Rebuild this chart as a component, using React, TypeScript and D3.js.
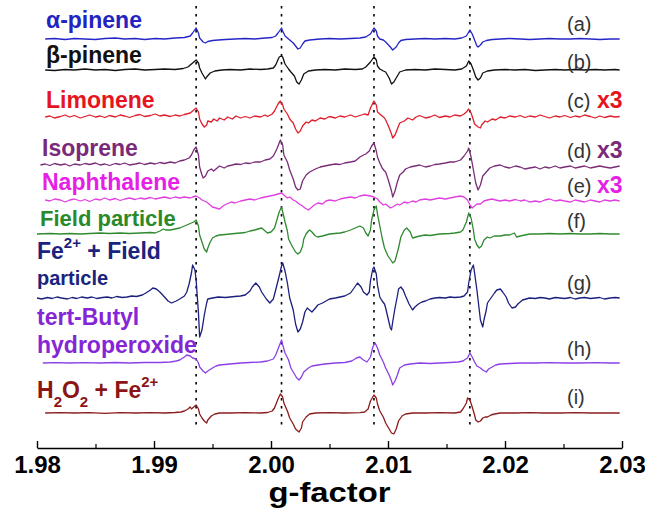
import React, { useEffect, useRef } from 'react';
import * as d3 from 'd3';

type Pt = [number, number];

// g-factor axis
const gTicks = [1.98, 1.99, 2.0, 2.01, 2.02, 2.03];
const gMinorTicks = [1.985, 1.995, 2.005, 2.015, 2.025];
const markerLines = [1.9936, 2.0009, 2.0088, 2.017];

// spectra: [g, signal]
const alphaPinene: Pt[] = [[1.9807,0],[1.9815,0.5],[1.9824,-0.5],[1.9832,0.5],[1.9841,0],[1.985,-0.5],[1.9858,0.5],[1.9867,1],[1.9875,0],[1.9884,0.5],[1.9892,-0.5],[1.9901,0.5],[1.9909,0],[1.9918,1],[1.9926,1.5],[1.9931,3],[1.9933,6],[1.9936,11],[1.9938,6],[1.9939,1],[1.9942,-3],[1.9944,-4],[1.9946,-2.5],[1.995,-1.5],[1.9955,-1],[1.9961,-0.5],[1.9969,0],[1.9978,0.5],[1.9986,0],[1.9995,1],[2.0001,1.5],[2.0004,3],[2.0006,6],[2.0009,11],[2.001,8],[2.0012,3],[2.0015,0],[2.0016,-1],[2.0019,-4],[2.0021,-7],[2.0023,-10],[2.0025,-9],[2.0027,-5],[2.0029,-2],[2.0033,-1],[2.0042,0],[2.005,0.5],[2.0059,0],[2.0068,0.5],[2.0076,1],[2.0081,2],[2.0085,5],[2.0088,11],[2.009,8],[2.0091,3],[2.0093,0],[2.0096,-1],[2.0098,-3],[2.0102,-8],[2.0104,-11],[2.0107,-8],[2.0109,-4],[2.0111,-1.5],[2.0115,-0.5],[2.0123,0],[2.0132,0.5],[2.014,0],[2.0149,0.5],[2.0157,0],[2.0163,1],[2.0167,3],[2.017,9],[2.0172,5],[2.0174,-1],[2.0176,-7],[2.0177,-8],[2.0179,-6],[2.0181,-3],[2.0184,-1.5],[2.0189,-0.5],[2.0196,0],[2.0204,0.5],[2.0213,0],[2.0221,-0.5],[2.023,0],[2.0238,0.5],[2.0247,0],[2.0256,0],[2.0264,0.5],[2.0273,0],[2.0281,-0.5],[2.029,0],[2.0298,0]];

const betaPinene: Pt[] = [[1.9807,0],[1.9815,-0.5],[1.9824,0.5],[1.9832,0],[1.9841,1],[1.985,0],[1.9858,0.5],[1.9867,-0.5],[1.9875,0.5],[1.9884,1],[1.9892,0],[1.9901,0.5],[1.9909,1],[1.9918,0.5],[1.9925,1.5],[1.9929,3],[1.9932,6],[1.9936,10],[1.9938,7],[1.9939,2],[1.9941,-3],[1.9944,-9],[1.9945,-7],[1.9948,-3],[1.9952,-1],[1.9958,0],[1.9965,0.5],[1.9974,0],[1.9982,1],[1.9991,0.5],[1.9997,1],[2.0002,2],[2.0004,5],[2.0007,13],[2.0009,14],[2.001,13],[2.0012,6],[2.0015,1],[2.0017,-2],[2.002,-6],[2.0022,-12],[2.0024,-14],[2.0026,-10],[2.0028,-4],[2.0032,-1],[2.0038,0],[2.0046,0.5],[2.0055,0],[2.0063,1],[2.0072,0.5],[2.0078,1],[2.0081,3],[2.0085,8],[2.0088,13],[2.009,10],[2.0091,4],[2.0093,1],[2.0096,-1],[2.0098,-2],[2.0101,-8],[2.0103,-14],[2.0105,-12],[2.0108,-6],[2.011,-2],[2.0115,0],[2.0123,0.5],[2.0132,0],[2.014,1],[2.0149,0.5],[2.0157,0],[2.0163,1],[2.0167,4],[2.0169,9],[2.0171,6],[2.0173,0],[2.0175,-7],[2.0177,-10],[2.0179,-8],[2.0181,-3],[2.0185,-1],[2.0191,0],[2.02,0.5],[2.0208,0],[2.0217,0.5],[2.0226,-0.5],[2.0234,0],[2.0243,0.5],[2.0251,0],[2.026,0.5],[2.0268,0],[2.0277,0.5],[2.0285,0],[2.0294,0.5],[2.0298,0]];

const limonene: Pt[] = [[1.9807,0],[1.9811,1],[1.9815,-1],[1.982,0.5],[1.9824,2],[1.9828,0],[1.9832,1.5],[1.9837,-1],[1.9841,0.5],[1.9845,2],[1.985,0],[1.9854,1],[1.9858,-0.5],[1.9862,1.5],[1.9867,0],[1.9871,2],[1.9875,1],[1.9879,-0.5],[1.9884,1.5],[1.9888,2.5],[1.9892,0.5],[1.9897,1.5],[1.9901,3],[1.9905,1],[1.9909,2],[1.9914,0.5],[1.9918,2],[1.9922,1],[1.9926,2.5],[1.9931,4],[1.9933,6],[1.9936,9],[1.9938,5],[1.9939,-2],[1.9941,-7],[1.9943,-10],[1.9945,-8],[1.9946,-4],[1.9949,-5],[1.9951,-2],[1.9954,-4],[1.9956,-1],[1.996,-3],[1.9963,0],[1.9967,-2],[1.997,1],[1.9974,-1],[1.9978,0.5],[1.9982,-1],[1.9986,1],[1.9991,0],[1.9995,2],[1.9997,0.5],[2.0001,3],[2.0003,6],[2.0006,13],[2.0008,16],[2.001,12],[2.0011,8],[2.0014,3],[2.0016,-2],[2.0019,-6],[2.0021,-12],[2.0023,-16],[2.0025,-14],[2.0027,-9],[2.003,-5],[2.0032,-6],[2.0035,-3],[2.0038,-4],[2.0042,-1],[2.0046,-2],[2.005,0.5],[2.0055,-1],[2.0059,1],[2.0063,0],[2.0068,2],[2.0072,0],[2.0076,1.5],[2.008,3],[2.0083,2],[2.0085,9],[2.0088,16],[2.009,12],[2.0091,5],[2.0094,2],[2.0097,-1],[2.0098,-3],[2.01,-8],[2.0103,-17],[2.0104,-21],[2.0106,-18],[2.0108,-12],[2.011,-6],[2.0114,-4],[2.0117,-1],[2.0121,-3],[2.0124,0],[2.0127,1.5],[2.0132,-1],[2.0136,0],[2.014,2],[2.0144,-0.5],[2.0149,1],[2.0153,0],[2.0157,2],[2.0162,1],[2.0165,3],[2.0167,5],[2.0169,8],[2.0171,4],[2.0173,-3],[2.0174,-7],[2.0177,-10],[2.0179,-11],[2.018,-8],[2.0183,-4],[2.0185,-5],[2.0189,-2],[2.0192,-3],[2.0196,0],[2.02,-1],[2.0204,1],[2.0209,0],[2.0213,1.5],[2.0217,-0.5],[2.0221,1],[2.0226,0],[2.023,2],[2.0234,0.5],[2.0238,-1],[2.0243,1],[2.0247,0],[2.0251,1.5],[2.0256,-0.5],[2.026,1],[2.0264,0],[2.0268,2],[2.0273,0.5],[2.0277,-1],[2.0281,1],[2.0285,-0.5],[2.029,1],[2.0294,0],[2.0298,0.5]];

const isoprene: Pt[] = [[1.9803,0],[1.9807,1],[1.9811,-0.5],[1.9815,1.5],[1.982,0],[1.9824,1],[1.9828,-1],[1.9832,1],[1.9837,0],[1.9841,1.5],[1.9845,0.5],[1.985,2],[1.9854,0],[1.9858,1],[1.9862,-0.5],[1.9867,1.5],[1.9871,0.5],[1.9875,2],[1.9879,0],[1.9884,1],[1.9888,2],[1.9892,0.5],[1.9897,2],[1.9901,1],[1.9905,2.5],[1.9909,1.5],[1.9914,3],[1.9918,2],[1.9922,4],[1.9926,5],[1.993,7],[1.9932,10],[1.9934,15],[1.9936,18],[1.9938,10],[1.9939,-2],[1.9941,-10],[1.9942,-13],[1.9944,-11],[1.9946,-6],[1.9949,-4],[1.9951,-6],[1.9954,-3],[1.9956,-1],[1.996,-3],[1.9963,-1],[1.9967,0],[1.997,1],[1.9974,0.5],[1.9978,2],[1.9982,1.5],[1.9986,3],[1.9991,3],[1.9995,5],[1.9999,6],[2.0002,9],[2.0005,16],[2.0008,25],[2.001,20],[2.0011,10],[2.0014,3],[2.0016,-5],[2.0019,-14],[2.0021,-22],[2.0023,-25],[2.0025,-24],[2.0027,-16],[2.003,-10],[2.0033,-7],[2.0038,-4],[2.0042,-2],[2.0046,-1],[2.005,0],[2.0055,1],[2.0059,0.5],[2.0063,2],[2.0068,3],[2.0072,4],[2.0076,8],[2.0079,10],[2.0081,11],[2.0084,14],[2.0086,19],[2.0088,22],[2.009,14],[2.0091,8],[2.0093,2],[2.0095,-3],[2.0097,-6],[2.0098,-7],[2.01,-14],[2.0103,-26],[2.0104,-32],[2.0106,-26],[2.0108,-17],[2.011,-10],[2.0113,-7],[2.0115,-4],[2.0119,-2],[2.0123,-1],[2.0127,0],[2.0132,-2],[2.0136,-1],[2.014,0.5],[2.0144,1],[2.0149,2],[2.0153,3],[2.0157,3],[2.0162,5],[2.0165,9],[2.0168,14],[2.0169,17],[2.0171,8],[2.0173,-5],[2.0175,-18],[2.0177,-25],[2.0179,-20],[2.0181,-11],[2.0184,-7],[2.0187,-3],[2.0191,-1],[2.0196,0],[2.02,-2],[2.0204,-3],[2.0209,-1],[2.0213,-2],[2.0217,-4],[2.0221,-3],[2.0226,-2],[2.023,-4],[2.0234,-2],[2.0238,-3],[2.0243,-1],[2.0247,-3],[2.0251,-2],[2.0256,-1],[2.026,-3],[2.0264,-2],[2.0268,-1],[2.0273,-3],[2.0277,-2],[2.0281,-1],[2.0285,-2],[2.029,-3],[2.0294,-2],[2.0298,-1]];

const naphthalene: Pt[] = [[1.9807,0],[1.9811,-1],[1.9815,1],[1.982,0],[1.9824,-2],[1.9828,0],[1.9832,1],[1.9837,-1],[1.9841,0.5],[1.9845,-1.5],[1.985,1],[1.9854,0],[1.9858,2],[1.9862,0],[1.9867,1.5],[1.9871,-0.5],[1.9875,1],[1.9879,2],[1.9884,0.5],[1.9888,2],[1.9892,1],[1.9897,2.5],[1.9901,1],[1.9905,2],[1.9909,3],[1.9914,1.5],[1.9918,3],[1.9922,2],[1.9926,3],[1.9931,2],[1.9933,3],[1.9936,4],[1.9939,2],[1.9941,0],[1.9945,-2],[1.9948,-5],[1.995,-7],[1.9953,-8],[1.9956,-9],[1.9959,-6],[1.9962,-4],[1.9966,-2],[1.9969,-3],[1.9974,-1],[1.9978,0],[1.9982,1],[1.9986,0],[1.9991,2],[1.9995,3],[1.9999,4],[2.0003,5],[2.0006,6],[2.0009,7],[2.0011,5],[2.0014,2],[2.0016,3],[2.0019,0],[2.0021,-1],[2.0024,-4],[2.0027,-6],[2.0029,-8],[2.0032,-10],[2.0034,-8],[2.0037,-5],[2.004,-3],[2.0044,-4],[2.0047,-1],[2.005,0],[2.0055,-1],[2.0059,1],[2.0063,2],[2.0068,3],[2.0072,2],[2.0076,4],[2.008,5],[2.0085,4],[2.0088,3],[2.0091,1],[2.0093,-2],[2.0096,-5],[2.0098,-4],[2.0102,-8],[2.0104,-7],[2.0108,-4],[2.011,-5],[2.0114,-2],[2.0117,-3],[2.0121,-1],[2.0124,-2],[2.0127,0],[2.0132,1],[2.0136,0],[2.014,1],[2.0144,2],[2.0149,1],[2.0153,2],[2.0157,3],[2.0162,4],[2.0165,3],[2.0168,0],[2.017,-5],[2.0172,-8],[2.0174,-6],[2.0176,-4],[2.0179,-4],[2.0182,-1],[2.0185,0],[2.0189,1],[2.0192,0],[2.0196,-1],[2.02,0],[2.0204,-1],[2.0209,0.5],[2.0213,-1],[2.0217,0],[2.0221,-2],[2.0226,-1],[2.023,-2],[2.0234,0],[2.0238,1],[2.0243,-1],[2.0247,0],[2.0251,-1],[2.0256,-2],[2.026,0],[2.0264,-1],[2.0268,-2],[2.0273,0],[2.0277,-1],[2.0281,-2],[2.0285,0],[2.029,-1],[2.0294,0],[2.0298,-1]];

const fieldParticle: Pt[] = [[1.98,0],[1.9811,0.5],[1.982,0],[1.9828,0.5],[1.9837,0],[1.9845,0.5],[1.9854,1],[1.9862,0.5],[1.9871,1],[1.9879,0.5],[1.9888,1],[1.9897,1.5],[1.9901,1],[1.9905,3],[1.9908,5],[1.991,4],[1.9914,4],[1.9918,5],[1.9922,6],[1.9926,8],[1.993,10],[1.9932,11],[1.9934,12],[1.9936,14],[1.9938,8],[1.9939,-1],[1.9941,-8],[1.9943,-15],[1.9945,-18],[1.9946,-14],[1.9948,-8],[1.995,-4],[1.9953,-2],[1.9956,-1],[1.9961,-0.5],[1.9965,0],[1.9969,0.5],[1.9974,1],[1.9978,1.5],[1.9982,3],[1.9986,4],[1.9989,5],[1.9992,6],[1.9995,3],[1.9997,1],[2.0,2],[2.0003,6],[2.0005,14],[2.0007,22],[2.0009,27],[2.001,22],[2.0012,12],[2.0014,3],[2.0015,-5],[2.0018,-12],[2.0021,-18],[2.0023,-20],[2.0025,-18],[2.0027,-12],[2.0028,-5],[2.003,0],[2.0032,3],[2.0033,4],[2.0035,2],[2.0038,-2],[2.004,-3],[2.0044,-2],[2.0047,-1],[2.005,0],[2.0059,1],[2.0063,2],[2.0068,4],[2.0072,6],[2.0076,8],[2.0079,6],[2.0081,1],[2.0083,-2],[2.0085,4],[2.0086,14],[2.0088,24],[2.009,28],[2.0091,20],[2.0093,8],[2.0095,-4],[2.0097,-14],[2.01,-22],[2.0103,-27],[2.0104,-29],[2.0106,-27],[2.0109,-14],[2.0111,-3],[2.0114,4],[2.0116,6],[2.0119,2],[2.0121,-4],[2.0124,-3],[2.0127,-2],[2.0132,-1],[2.0136,-1.5],[2.0144,0],[2.0153,0.5],[2.0157,1],[2.0162,2],[2.0164,4],[2.0167,12],[2.0169,21],[2.0171,16],[2.0173,4],[2.0174,-5],[2.0176,-11],[2.0178,-14],[2.018,-12],[2.0182,-6],[2.0185,-3],[2.0187,-4],[2.0191,-2],[2.0196,-2],[2.02,-1],[2.0204,-1],[2.0208,1],[2.021,-3],[2.0213,-2],[2.0217,-1],[2.0221,0],[2.023,0],[2.0238,0.5],[2.0247,0],[2.0256,0.5],[2.0264,0],[2.0273,0],[2.0281,0.5],[2.029,0],[2.0298,0]];

const feFieldParticle: Pt[] = [[1.98,0],[1.9804,-1],[1.9809,0.5],[1.9813,-0.5],[1.9817,1],[1.9821,0],[1.9826,-1],[1.983,0.5],[1.9834,-0.5],[1.9838,1],[1.9843,0],[1.9847,1],[1.9851,-0.5],[1.9856,0.5],[1.986,1],[1.9864,0],[1.9868,1.5],[1.9873,0.5],[1.9877,1],[1.9881,2],[1.9885,1.5],[1.989,3],[1.9893,5],[1.9897,8],[1.9899,10],[1.9902,9],[1.9905,6],[1.9909,1],[1.9912,-3],[1.9915,-5],[1.9919,-3],[1.9922,-1],[1.9926,2],[1.9928,6],[1.993,14],[1.9932,25],[1.9933,33],[1.9935,28],[1.9936,18],[1.9938,-15],[1.9939,-39],[1.9941,-32],[1.9943,-17],[1.9945,-5],[1.9946,-1],[1.995,0],[1.9955,1],[1.9961,0.5],[1.9965,1],[1.9969,1.5],[1.9974,2],[1.9978,3],[1.9982,7],[1.9984,11],[1.9987,15],[1.999,11],[1.9992,6],[1.9996,-1],[1.9999,-5],[2.0002,-1],[2.0004,8],[2.0007,22],[2.0009,32],[2.001,35],[2.0012,27],[2.0014,15],[2.0016,0],[2.0019,-12],[2.0021,-26],[2.0023,-34],[2.0025,-31],[2.0027,-24],[2.0029,-14],[2.0031,-10],[2.0033,-12],[2.0035,-14],[2.0038,-10],[2.004,-7],[2.0044,-5],[2.0047,-3],[2.005,-1],[2.0055,0],[2.0059,1],[2.0063,2],[2.0068,5],[2.0071,10],[2.0074,15],[2.0077,11],[2.0079,6],[2.0082,3],[2.0084,6],[2.0085,17],[2.0087,29],[2.0088,31],[2.009,24],[2.0091,13],[2.0093,1],[2.0095,-3],[2.0097,-6],[2.0098,-10],[2.01,-20],[2.0102,-30],[2.0103,-32],[2.0104,-24],[2.0106,-10],[2.0108,2],[2.0109,9],[2.0111,11],[2.0113,8],[2.0115,2],[2.0118,-6],[2.0121,-12],[2.0123,-9],[2.0126,-6],[2.0129,-4],[2.0132,-3],[2.0136,-1],[2.014,0],[2.0144,0.5],[2.0149,0],[2.0153,1],[2.0157,0.5],[2.0162,1],[2.0165,2],[2.0168,6],[2.0169,15],[2.0171,28],[2.0173,33],[2.0174,25],[2.0176,8],[2.0178,-12],[2.0179,-22],[2.0181,-29],[2.0182,-22],[2.0184,-12],[2.0185,-5],[2.0188,0],[2.0191,5],[2.0193,8],[2.0196,9],[2.0198,6],[2.0201,1],[2.0203,-5],[2.0206,-10],[2.0209,-9],[2.0211,-6],[2.0215,-2],[2.0218,-1],[2.0221,0],[2.0226,-0.5],[2.023,0.5],[2.0234,0],[2.0238,-1],[2.0243,0.5],[2.0247,0],[2.0251,-0.5],[2.0256,0.5],[2.026,-1],[2.0264,0],[2.0268,0.5],[2.0273,-0.5],[2.0277,0],[2.0281,0.5],[2.0285,-1],[2.029,0],[2.0294,0.5],[2.0298,0]];

const tertButyl: Pt[] = [[1.9805,0],[1.9815,0.3],[1.9828,0],[1.9841,0.3],[1.9854,0],[1.9867,0.5],[1.9879,0],[1.9892,0.5],[1.9905,0.5],[1.9914,1],[1.9919,2],[1.9922,3],[1.9926,6],[1.9928,8],[1.9931,7],[1.9933,5],[1.9936,4],[1.9938,0],[1.9939,-4],[1.9942,-8],[1.9944,-10],[1.9946,-8],[1.995,-5],[1.9953,-3],[1.9956,-2],[1.9965,-1],[1.9974,0],[1.9982,0.5],[1.9991,1],[1.9997,2],[2.0002,4],[2.0004,8],[2.0006,14],[2.0009,23],[2.001,18],[2.0012,10],[2.0015,3],[2.0017,-5],[2.002,-11],[2.0022,-15],[2.0024,-17],[2.0026,-14],[2.0028,-9],[2.0032,-5],[2.0035,-3],[2.004,-2],[2.0046,-1],[2.0055,0],[2.0063,0.5],[2.0069,2],[2.0073,5],[2.0076,6],[2.0079,3],[2.0082,1],[2.0085,6],[2.0087,16],[2.0089,20],[2.0091,15],[2.0093,8],[2.0096,1],[2.0098,-5],[2.0101,-12],[2.0103,-18],[2.0104,-22],[2.0106,-18],[2.0108,-12],[2.011,-5],[2.0114,-2],[2.0119,-1],[2.0127,0],[2.0136,-0.5],[2.0144,0],[2.0153,0.5],[2.016,1],[2.0164,2],[2.0168,5],[2.017,10],[2.0172,6],[2.0174,1],[2.0176,-3],[2.0179,-5],[2.0181,-7],[2.0184,-9],[2.0186,-6],[2.0189,-4],[2.0192,-2],[2.0196,-1],[2.0204,-0.5],[2.0213,0],[2.0226,0],[2.0238,0.3],[2.0251,0],[2.0264,0],[2.0277,0.3],[2.029,0],[2.0298,0]];

const h2o2Fe: Pt[] = [[1.9807,0],[1.982,0.3],[1.9832,0],[1.9845,0.3],[1.9858,-0.3],[1.9871,0.3],[1.9884,0],[1.9897,0.3],[1.9909,0],[1.9918,0.5],[1.9923,1],[1.9926,2],[1.9929,4],[1.9931,6],[1.9932,4],[1.9934,6],[1.9936,8],[1.9938,4],[1.9939,-1],[1.9941,-5],[1.9943,-8],[1.9945,-10],[1.9946,-7],[1.9949,-3],[1.9952,-1],[1.9956,0],[1.9965,0],[1.9978,0.3],[1.9991,0],[1.9997,0.5],[2.0001,2],[2.0003,5],[2.0006,14],[2.0008,19],[2.001,16],[2.0011,10],[2.0014,2],[2.0016,-5],[2.0019,-11],[2.0021,-16],[2.0024,-19],[2.0026,-15],[2.0027,-9],[2.003,-4],[2.0033,-1],[2.0038,0],[2.005,0.3],[2.0063,0],[2.0076,0.3],[2.008,1],[2.0083,4],[2.0085,12],[2.0088,18],[2.009,15],[2.0091,9],[2.0093,2],[2.0096,-4],[2.0098,-10],[2.0101,-16],[2.0103,-20],[2.0105,-21],[2.0107,-16],[2.0109,-8],[2.0112,-3],[2.0115,-1],[2.0121,0],[2.0132,0],[2.0144,0.3],[2.0157,0],[2.0162,1],[2.0164,4],[2.0167,10],[2.0168,15],[2.017,13],[2.0172,6],[2.0174,-2],[2.0175,-7],[2.0177,-9],[2.0179,-8],[2.0181,-5],[2.0183,-4],[2.0185,-4],[2.0188,-2],[2.0191,-1],[2.0196,0],[2.0209,0],[2.0221,0.3],[2.0234,0],[2.0247,0],[2.026,0.3],[2.0273,0],[2.0285,0],[2.0298,0]];

const spectra = [alphaPinene, betaPinene, limonene, isoprene, naphthalene, fieldParticle, feFieldParticle, tertButyl, h2o2Fe];
const offsets = [409, 378, 331, 283, 248, 214, 150, 85, 35];
const traceColors = ['#2626c8', '#111111', '#e01e2c', '#7a2c78', '#e040e0', '#2f8a30', '#1b1f7e', '#8a40e6', '#8c1c1c'];
const labelColors = ['#2323c0', '#111111', '#e6141e', '#7a2a7a', '#e61ee6', '#2a8a2a', '#1a237e', '#8526d6', '#8b1515'];
const letters = ['(a)', '(b)', '(c)', '(d)', '(e)', '(f)', '(g)', '(h)', '(i)'];
const multipliers = ['', '', 'x3', 'x3', 'x3', '', '', '', ''];
const letterBaselines = [31, 69, 108, 158, 193, 228, 290, 356, 404];

const FONT = '"Liberation Sans", Arial, Helvetica, sans-serif';

export default function App() {
  const axisRef = useRef<SVGGElement>(null);
  const minorRef = useRef<SVGGElement>(null);

  const x = d3.scaleLinear().domain([1.98, 2.03]).range([37, 622]);
  const y = d3.scaleLinear().domain([0, 440]).range([448, 8]);

  useEffect(() => {
    const ax = d3.select(axisRef.current);
    ax.selectAll('*').remove();
    ax.call(
      d3.axisBottom(x).tickValues(gTicks).tickSize(-7).tickSizeOuter(0)
        .tickPadding(8).tickFormat(d3.format('.2f') as any)
    );
    ax.select('.domain').attr('stroke', '#000').attr('stroke-width', 1.6);
    ax.selectAll('.tick line').attr('stroke', '#000').attr('stroke-width', 1.4);
    ax.selectAll('.tick text')
      .attr('fill', '#000')
      .attr('font-family', FONT)
      .attr('font-weight', 'bold')
      .attr('font-size', 24);

    const mn = d3.select(minorRef.current);
    mn.selectAll('*').remove();
    mn.call(d3.axisBottom(x).tickValues(gMinorTicks).tickSize(-4).tickSizeOuter(0).tickFormat(() => ''));
    mn.select('.domain').remove();
    mn.selectAll('.tick line').attr('stroke', '#000').attr('stroke-width', 1.2);
  }, []);

  const lineFor = (off: number) =>
    d3.line<Pt>().x(d => x(d[0])).y(d => y(d[1] + off));

  const bold = { fontFamily: FONT, fontWeight: 'bold' as const, fontSize: 23, whiteSpace: 'pre' as const };

  return (
    <svg width={645} height={508} style={{ position: 'absolute', left: 0, top: 0, background: '#fff' }}>
      <rect x={0} y={0} width={645} height={508} fill="#fff" />
      {markerLines.map(g => (
        <line key={g} x1={x(g)} x2={x(g)} y1={6} y2={428} stroke="#000" strokeWidth={1.6} strokeDasharray="2.5,5.5" />
      ))}
      {spectra.map((s, i) => (
        <path key={i} d={lineFor(offsets[i])(s) || ''} fill="none" stroke={traceColors[i]} strokeWidth={1.3} strokeLinejoin="round" />
      ))}

      <g style={bold}>
        <text x={46} y={28} fill={labelColors[0]}>α-pinene</text>
        <text x={46} y={63} fill={labelColors[1]}>β-pinene</text>
        <text x={46} y={108} fill={labelColors[2]}>Limonene</text>
        <text x={42} y={156} fill={labelColors[3]}>Isoprene</text>
        <text x={42} y={190} fill={labelColors[4]}>Naphthalene</text>
        <text x={40} y={226} fill={labelColors[5]} fontSize={22}>Field particle</text>
        <text x={37} y={259} fill={labelColors[6]}>Fe<tspan dy={-11} fontSize={15}>2+</tspan><tspan dy={11}>{' + Field'}</tspan></text>
        <text x={37} y={285} fill={labelColors[6]} fontSize={20}>particle</text>
        <text x={37} y={325} fill={labelColors[7]}>tert-Butyl</text>
        <text x={37} y={353} fill={labelColors[7]}>hydroperoxide</text>
        <text x={37} y={398} fill={labelColors[8]}>H<tspan dy={9} fontSize={15}>2</tspan><tspan dy={-9}>O</tspan><tspan dy={9} fontSize={15}>2</tspan><tspan dy={-9}>{' + Fe'}</tspan><tspan dy={-11} fontSize={15}>2+</tspan></text>
      </g>

      {letters.map((l, i) => (
        <g key={l}>
          <text x={567} y={letterBaselines[i]} fill="#333" style={{ fontFamily: FONT, fontSize: 20 }}>{l}</text>
          {multipliers[i] && (
            <text x={597} y={letterBaselines[i]} fill={labelColors[i]} style={{ fontFamily: FONT, fontSize: 23, fontWeight: 'bold' }}>{multipliers[i]}</text>
          )}
        </g>
      ))}

      <g ref={axisRef} transform="translate(0,448)" />
      <g ref={minorRef} transform="translate(0,448)" />
      <text x={x(2.005)} y={502} textAnchor="middle" fill="#000" textLength={122} lengthAdjust="spacingAndGlyphs"
        style={{ fontFamily: FONT, fontWeight: 'bold', fontSize: 28 }}>g-factor</text>
    </svg>
  );
}
